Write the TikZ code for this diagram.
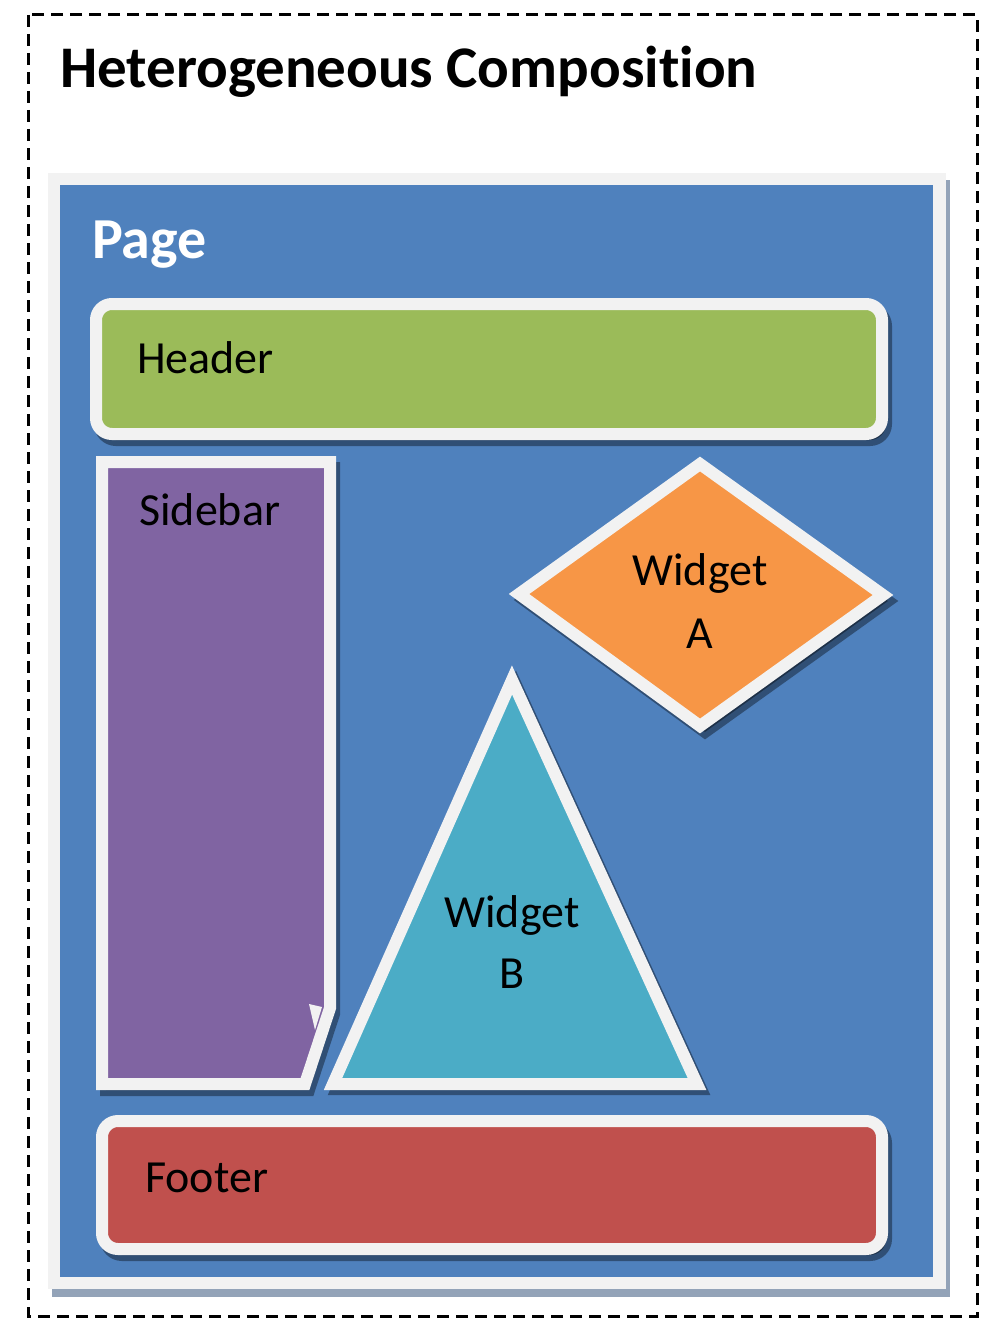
\documentclass[tikz,border=0pt]{standalone}
\usepackage{fontspec}
\setmainfont{Carlito}[Ligatures=NoCommon]
\definecolor{pageblue}{HTML}{4F81BD}
\definecolor{hgreen}{HTML}{9BBB59}
\definecolor{spurple}{HTML}{8064A2}
\definecolor{worange}{HTML}{F79646}
\definecolor{wteal}{HTML}{4BACC6}
\definecolor{fred}{HTML}{C0504D}
\definecolor{bordergray}{HTML}{F2F2F2}
\definecolor{pageshadow}{HTML}{93A3B8}
\begin{document}
\begin{tikzpicture}[x=1pt,y=-1pt,
  wborder/.style={draw=bordergray, line width=12pt},
  shade3/.style={fill=black, draw=black, fill opacity=0.38, draw opacity=0.38, line width=12pt},
  lbl/.style={font=\fontsize{46}{55}\selectfont, text=black, inner sep=0pt},
  bigbold/.style={font=\fontsize{59}{70}\selectfont\bfseries, inner sep=0pt}]
\useasboundingbox (0,0) rectangle (990,1319);
\fill[white] (0,0) rectangle (990,1319);
% outer dashed frame
\draw[black, line width=3pt, dash pattern=on 12pt off 7pt] (28,15) rectangle (977,1316);
\node[bigbold, anchor=base west] (title) at (60,88) {Heterogeneous Composition};
% page
\fill[pageshadow] (52,180) rectangle (950,1297);
\fill[bordergray] (48,173) rectangle (946,1289);
\fill[pageblue] (60,185) rectangle (933,1277);
\node[bigbold, text=white, anchor=base west, font=\fontsize{58}{70}\selectfont\bfseries] (page) at (92,258) {Page};
% header
\draw[shade3, rounded corners=16pt] ([shift={(4,6)}]96,304) rectangle ([shift={(4,6)}]882,434);
\draw[wborder, fill=hgreen, rounded corners=16pt] (96,304) rectangle (882,434);
\node[lbl, anchor=base west] (header) at (137,373) {Header};
% sidebar
\draw[shade3, line join=miter, shift={(4,6)}] (102,462) -- (330,462) -- (330,1008) -- (305,1084) -- (102,1084) -- cycle;
\draw[wborder, fill=spurple, line join=miter] (102,462) -- (330,462) -- (330,1008) -- (305,1084) -- (102,1084) -- cycle;
\fill[bordergray] (309,1004) -- (322,1007) -- (315,1030) -- cycle;
\node[lbl, anchor=base west] (sidebar) at (139,525) {Sidebar};
% widget A diamond
\draw[shade3, line join=miter, shift={(5,6)}] (700,464) -- (883,595) -- (700,726) -- (519,594) -- cycle;
\draw[wborder, fill=worange, line join=miter] (700,464) -- (883,595) -- (700,726) -- (519,594) -- cycle;
\node[lbl, anchor=base] (wa1) at (700,585) {Widget};
\node[lbl, anchor=base] (wa2) at (700,648) {A};
% widget B triangle
\draw[shade3, line join=miter, shift={(4,5)}] (512,680) -- (697,1084) -- (333,1084) -- cycle;
\draw[wborder, fill=wteal, line join=miter] (512,680) -- (697,1084) -- (333,1084) -- cycle;
\node[lbl, anchor=base] (wb1) at (512,927) {Widget};
\node[lbl, anchor=base] (wb2) at (512,988) {B};
% footer
\draw[shade3, rounded corners=16pt] ([shift={(4,6)}]102,1121) rectangle ([shift={(4,6)}]882,1249);
\draw[wborder, fill=fred, rounded corners=16pt] (102,1121) rectangle (882,1249);
\node[lbl, anchor=base west] (footer) at (145,1192) {Footer};
\end{tikzpicture}
\end{document}
